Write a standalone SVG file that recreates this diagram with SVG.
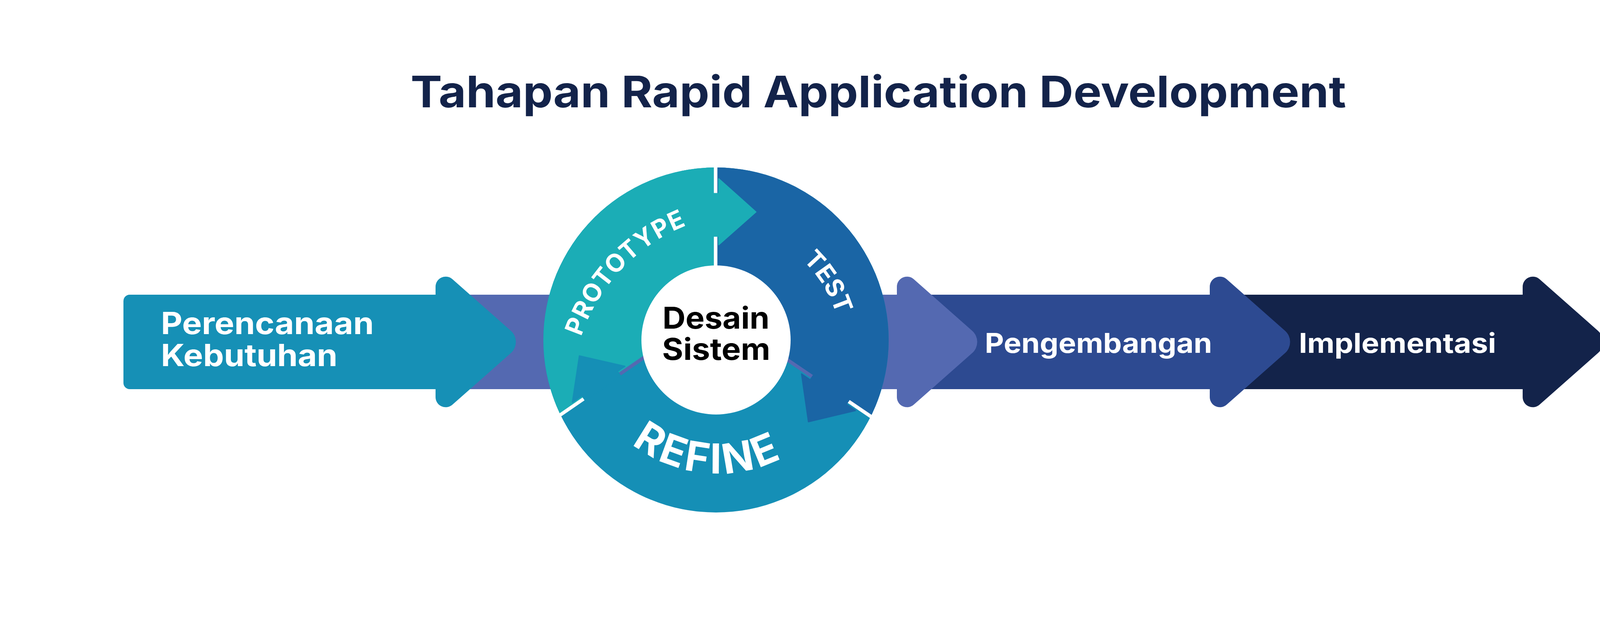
<svg xmlns="http://www.w3.org/2000/svg" width="4500" height="1591" viewBox="0 0 4500 1591">
<style>
.f{font-family:Inter,"Liberation Sans",Arial,sans-serif;font-weight:700}
.w{fill:#ffffff}
.gw{stroke:#ffffff;stroke-width:9;fill:none}
.gp{stroke:#5469B1;stroke-width:9;fill:none}
.hd{stroke-linejoin:round;stroke-width:3}
</style>
<defs>
<clipPath id="disk"><circle cx="1833" cy="871" r="442"/></clipPath>
<path id="pPro" d="M1467.0,1061.5 A464,464 0 0 1 1956.3,545.9"/>
<path id="pTest" d="M1879.5,581.4 A322,322 0 0 1 2138.7,1001.1"/>
<path id="pRef" d="M1543.9,1059.9 A359,359 0 0 0 2091.9,1107.9"/>
</defs>
<rect width="4500" height="1591" fill="#ffffff"/>

<g id="title">
<text class="f" x="1051" y="275" font-size="112" fill="#13234A" textLength="2395" lengthAdjust="spacingAndGlyphs">Tahapan Rapid Application Development</text>
</g>

<g id="implementasi">
<path d="M3080,755 H3898 V734.7 A26,26 0 0 1 3941.2,715.2 L4090.8,847.5 A38,38 0 0 1 4090.8,904.5 L3941.2,1036.8 A26,26 0 0 1 3898,1017.3 V997 H3080 Z" fill="#13234A"/>
<text class="f w" x="3325" y="904" font-size="70" textLength="505" lengthAdjust="spacingAndGlyphs">Implementasi</text>
</g>

<g id="pengembangan">
<path d="M2280,755 H3097 V734.7 A26,26 0 0 1 3140.2,715.2 L3289.8,847.5 A38,38 0 0 1 3289.8,904.5 L3140.2,1036.8 A26,26 0 0 1 3097,1017.3 V997 H2280 Z" fill="#2D4A91"/>
<text class="f w" x="2521" y="904" font-size="70" textLength="582" lengthAdjust="spacingAndGlyphs">Pengembangan</text>
</g>

<g id="desain-arrow">
<path d="M1100,755 H2296 V734.7 A26,26 0 0 1 2339.2,715.2 L2488.8,847.5 A38,38 0 0 1 2488.8,904.5 L2339.2,1036.8 A26,26 0 0 1 2296,1017.3 V997 H1100 Z" fill="#5469B1"/>
</g>

<g id="perencanaan">
<path d="M332,755 H1115 V734.7 A26,26 0 0 1 1158.2,715.2 L1307.8,847.5 A38,38 0 0 1 1307.8,904.5 L1158.2,1036.8 A26,26 0 0 1 1115,1017.3 V997 H332 A16,16 0 0 1 316,981 V771 A16,16 0 0 1 332,755 Z" fill="#1690B6"/>
<text class="f w" font-size="78"><tspan x="412" y="856" textLength="545" lengthAdjust="spacingAndGlyphs">Perencanaan</tspan><tspan x="412" y="938" textLength="452" lengthAdjust="spacingAndGlyphs">Kebutuhan</tspan></text>
</g>

<g id="desain-sistem">
<g id="refine">
<circle cx="1833" cy="871" r="442" fill="#158FB6"/>
</g>
<g id="prototype">
<polygon clip-path="url(#disk)" points="1832,400 1832,790.1 1380,1100.2 1380,400" fill="#1BADB6"/>
</g>
<g id="test">
<polygon clip-path="url(#disk)" points="1832,400 1832,797 2290,1108.2 2290,400" fill="#1A65A5"/>
</g>
<g id="gaps">
<path class="gw" d="M1832,420 V496 M1832,605 V690 M1495.2,1021.1 L1427.6,1067.6 M2171.5,1027.7 L2239.3,1073.7"/>
<path class="gp" d="M1655.3,911.3 L1586.0,958.9 M2007.7,916.4 L2079.7,965.3"/>
</g>
<g id="heads">
<polygon class="hd" points="1826,496 1840,496 1840,458 1935,543 1840,627 1840,605 1826,605" fill="#1BADB6" stroke="#1BADB6"/>
<polygon class="hd" points="2083.1,960.3 2074.3,973.2 2052.0,958.0 2069.6,1080.5 2190.1,1051.9 2166.1,1035.6 2174.9,1022.7" fill="#1A65A5" stroke="#1A65A5"/>
<polygon class="hd" points="1589.3,963.8 1580.9,951.5 1599.8,938.5 1483.2,911.7 1465.3,1030.7 1490.1,1013.7 1498.6,1026.1" fill="#158FB6" stroke="#158FB6"/>
</g>
<circle cx="1833" cy="871" r="191" fill="#ffffff"/>
<text class="f w" font-size="64" letter-spacing="2"><textPath href="#pPro" startOffset="50%" text-anchor="middle">PROTOTYPE</textPath></text>
<text class="f w" font-size="64"><textPath href="#pTest" startOffset="50%" text-anchor="middle">TEST</textPath></text>
<text class="f w" font-size="106" font-weight="800" letter-spacing="7"><textPath href="#pRef" startOffset="50%" text-anchor="middle">REFINE</textPath></text>
<text class="f" font-size="77" fill="#000000"><tspan x="1696" y="842" textLength="274" lengthAdjust="spacingAndGlyphs">Desain</tspan><tspan x="1695" y="922" textLength="277" lengthAdjust="spacingAndGlyphs">Sistem</tspan></text>
</g>

<g id="connectors"></g>
</svg>
